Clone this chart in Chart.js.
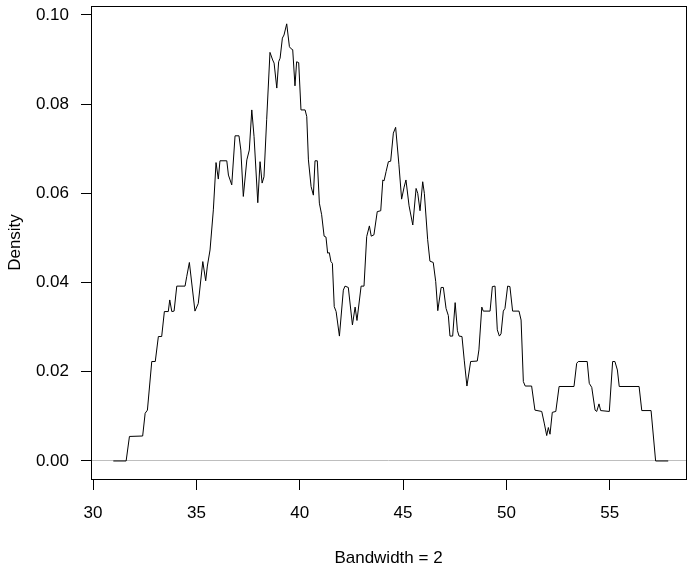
<!DOCTYPE html>
<html>
<head>
<meta charset="utf-8">
<script src="https://cdn.jsdelivr.net/npm/chart.js@4"></script>
<style>
  body { margin: 0; background: #fff; }
</style>
</head>
<body>
<canvas id="densityChart" width="687" height="565"></canvas>
<script>
// density estimate, x positions and heights
var densX = [
  30.98, 31.60, 31.76, 32.40, 32.52, 32.63, 32.84, 33.01, 33.16, 33.32,
  33.45, 33.64, 33.71, 33.81, 33.92, 34.05, 34.45, 34.53, 34.66, 34.93,
  35.09, 35.31, 35.45, 35.53, 35.66, 35.82, 35.95, 36.06, 36.14, 36.47,
  36.55, 36.63, 36.71, 36.87, 37.06, 37.15, 37.27, 37.44, 37.56, 37.68,
  37.79, 37.97, 38.08, 38.18, 38.27, 38.40, 38.56, 38.69, 38.76, 38.89,
  38.98, 39.05, 39.16, 39.24, 39.37, 39.50, 39.56, 39.66, 39.77, 39.85,
  39.95, 40.06, 40.26, 40.34, 40.42, 40.55, 40.66, 40.74, 40.85, 40.95,
  41.06, 41.18, 41.27, 41.35, 41.43, 41.51, 41.58, 41.67, 41.76, 41.92,
  42.11, 42.19, 42.35, 42.55, 42.68, 42.77, 42.97, 43.11, 43.24, 43.37,
  43.46, 43.59, 43.75, 43.92, 44.02, 44.08, 44.18, 44.29, 44.40, 44.53,
  44.64, 44.80, 44.93, 45.05, 45.14, 45.29, 45.47, 45.63, 45.71, 45.82,
  45.95, 46.03, 46.19, 46.30, 46.46, 46.58, 46.68, 46.84, 46.95, 47.08,
  47.19, 47.27, 47.40, 47.52, 47.63, 47.71, 47.85, 47.96, 48.09, 48.27,
  48.59, 48.67, 48.81, 48.88, 49.21, 49.32, 49.45, 49.56, 49.66, 49.74,
  49.85, 49.93, 50.06, 50.17, 50.30, 50.61, 50.71, 50.82, 50.91, 51.22,
  51.38, 51.71, 51.83, 51.95, 52.03, 52.11, 52.22, 52.39, 52.55, 53.27,
  53.40, 53.48, 53.91, 54.01, 54.13, 54.29, 54.37, 54.48, 54.56, 54.98,
  55.14, 55.25, 55.37, 55.46, 56.42, 56.55, 57.00, 57.22, 57.83
];
var densY = [
  0, 0, 0.0055, 0.0056, 0.0107, 0.0114, 0.0223, 0.0223, 0.0279, 0.0279,
  0.0335, 0.0335, 0.0361, 0.0335, 0.0336, 0.0392, 0.0392, 0.0413, 0.0445, 0.0336,
  0.0353, 0.0447, 0.0404, 0.0437, 0.0473, 0.0563, 0.0669, 0.0632, 0.0673, 0.0673,
  0.0641, 0.0630, 0.0619, 0.0729, 0.0729, 0.0697, 0.0593, 0.0675, 0.0697, 0.0787,
  0.0727, 0.0579, 0.0671, 0.0623, 0.0637, 0.0765, 0.0916, 0.0899, 0.0892, 0.0836,
  0.0895, 0.0903, 0.0948, 0.0955, 0.0980, 0.0929, 0.0925, 0.0922, 0.0841, 0.0895,
  0.0893, 0.0787, 0.0787, 0.0772, 0.0675, 0.0615, 0.0596, 0.0673, 0.0673, 0.0578,
  0.0552, 0.0504, 0.0502, 0.0466, 0.0467, 0.0447, 0.0443, 0.0346, 0.0335, 0.0280,
  0.0383, 0.0392, 0.0389, 0.0305, 0.0345, 0.0315, 0.0392, 0.0392, 0.0503, 0.0527,
  0.0504, 0.0507, 0.0559, 0.0561, 0.0630, 0.0628, 0.0649, 0.0671, 0.0672, 0.0735,
  0.0748, 0.0664, 0.0587, 0.0614, 0.0630, 0.0572, 0.0529, 0.0611, 0.0600, 0.0561,
  0.0626, 0.0600, 0.0496, 0.0448, 0.0445, 0.0402, 0.0337, 0.0389, 0.0389, 0.0342,
  0.0326, 0.0280, 0.0280, 0.0355, 0.0292, 0.0280, 0.0279, 0.0226, 0.0168, 0.0223,
  0.0224, 0.0249, 0.0345, 0.0336, 0.0336, 0.0391, 0.0392, 0.0294, 0.0280, 0.0285,
  0.0336, 0.0342, 0.0392, 0.0391, 0.0336, 0.0336, 0.0316, 0.0178, 0.0168, 0.0168,
  0.0114, 0.0111, 0.0085, 0.0057, 0.0075, 0.0060, 0.0109, 0.0111, 0.0167, 0.0167,
  0.0219, 0.0223, 0.0223, 0.0174, 0.0165, 0.0114, 0.0111, 0.0128, 0.0113, 0.0111,
  0.0223, 0.0223, 0.0204, 0.0167, 0.0167, 0.0113, 0.0113, 0, 0
];

var xTicks = [30, 35, 40, 45, 50, 55];
var yTicks = [0, 0.02, 0.04, 0.06, 0.08, 0.10];
var yTickLabels = ["0.00", "0.02", "0.04", "0.06", "0.08", "0.10"];
var xTitle = "Bandwidth = 2";
var yTitle = "Density";

var points = densX.map(function (x, i) { return { x: x, y: densY[i] }; });
var fontFamily = "'Liberation Sans', Arial, Helvetica, sans-serif";

// box around the plotting region
var boxPlugin = {
  id: "plotBox",
  afterDraw: function (chart) {
    var a = chart.chartArea;
    var c = chart.ctx;
    c.save();
    c.strokeStyle = "#000";
    c.lineWidth = 1;
    c.strokeRect(Math.round(a.left) + 0.5, Math.round(a.top) + 0.5,
      Math.round(a.right - a.left), Math.round(a.bottom - a.top));
    c.restore();
  }
};

new Chart(document.getElementById("densityChart"), {
  type: "scatter",
  data: {
    datasets: [{
      data: points,
      showLine: true,
      borderColor: "#000",
      borderWidth: 1,
      pointRadius: 0,
      tension: 0,
      fill: false
    }]
  },
  options: {
    responsive: false,
    animation: false,
    layout: { padding: { top: 6, right: 1, bottom: 0, left: 0 } },
    plugins: {
      legend: { display: false },
      tooltip: { enabled: false }
    },
    scales: {
      x: {
        type: "linear",
        min: 29.90,
        max: 58.69,
        afterFit: function (s) {
          s.height = 86;
          s.paddingLeft = 0;
          s.paddingRight = 0;
        },
        afterBuildTicks: function (s) {
          s.ticks = xTicks.map(function (v) { return { value: v }; });
        },
        grid: {
          drawOnChartArea: false,
          drawTicks: true,
          tickLength: 11,
          tickColor: "#000"
        },
        border: { display: false },
        ticks: {
          color: "#000",
          padding: 13,
          maxRotation: 0,
          font: { family: fontFamily, size: 17 },
          callback: function (v) { return String(v); }
        },
        title: {
          display: true,
          text: xTitle,
          color: "#000",
          padding: { top: 0, bottom: -4 },
          font: { family: fontFamily, size: 17 }
        }
      },
      y: {
        type: "linear",
        min: -0.00404,
        max: 0.102,
        afterFit: function (s) {
          s.width = 91;
          s.paddingTop = 0;
          s.paddingBottom = 0;
        },
        afterBuildTicks: function (s) {
          s.ticks = yTicks.map(function (v) { return { value: v }; });
        },
        grid: {
          drawOnChartArea: true,
          drawTicks: true,
          tickLength: 10,
          tickColor: "#000",
          color: function (ctx) {
            return ctx.tick && ctx.tick.value === 0 ? "#bebebe" : "rgba(0,0,0,0)";
          }
        },
        border: { display: false },
        ticks: {
          color: "#000",
          padding: 12,
          font: { family: fontFamily, size: 17 },
          callback: function (v, i) { return yTickLabels[i]; }
        },
        title: {
          display: true,
          text: yTitle,
          color: "#000",
          padding: { top: 5, bottom: 0 },
          font: { family: fontFamily, size: 17 }
        }
      }
    }
  },
  plugins: [boxPlugin]
});
</script>
</body>
</html>
